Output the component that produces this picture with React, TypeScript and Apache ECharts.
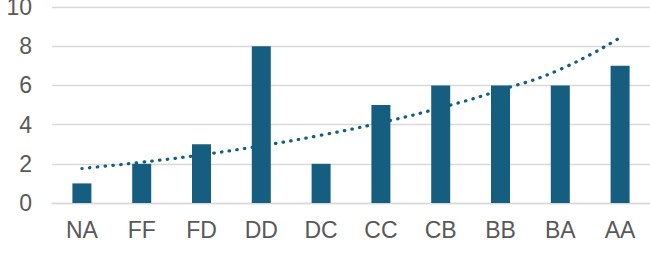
import React, { useEffect, useRef } from "react";
import * as echarts from "echarts";

const categories = ["NA", "FF", "FD", "DD", "DC", "CC", "CB", "BB", "BA", "AA"];
const values = [1, 2, 3, 8, 2, 5, 6, 6, 6, 7];
const trend = [1.76, 2.08, 2.46, 2.92, 3.46, 4.1, 4.86, 5.76, 6.82, 8.44];
const yTicks = { min: 0, max: 10, interval: 2 };

export default function App() {
  const ref = useRef<HTMLDivElement>(null);
  useEffect(() => {
    if (!ref.current) return;
    const chart = echarts.init(ref.current, null, { renderer: "svg" });
    chart.setOption({
      animation: false,
      grid: {
        left: 52,
        right: 0,
        top: 7,
        bottom: 51,
        containLabel: false,
        outerBoundsMode: "none",
      },
      xAxis: {
        type: "category",
        data: categories,
        axisLine: { show: true, lineStyle: { color: "#d9d9d9", width: 1.3 } },
        axisTick: { show: false },
        axisLabel: {
          color: "#595959",
          fontSize: 23,
          fontFamily: "Liberation Sans, Arial, sans-serif",
          margin: 15,
        },
      },
      yAxis: {
        type: "value",
        min: yTicks.min,
        max: yTicks.max,
        interval: yTicks.interval,
        axisLine: { show: false },
        axisTick: { show: false },
        splitLine: { lineStyle: { color: "#d9d9d9", width: 1.3 } },
        axisLabel: {
          color: "#595959",
          fontSize: 23,
          fontFamily: "Liberation Sans, Arial, sans-serif",
          margin: 20,
        },
      },
      series: [
        {
          type: "bar",
          data: values,
          barWidth: 19,
          itemStyle: { color: "#165e80" },
        },
        {
          type: "line",
          data: trend,
          smooth: true,
          symbol: "none",
          lineStyle: { color: "#165e80", width: 3.2, type: [0.5, 7.3], cap: "round" },
          z: 3,
        },
      ],
    });
    return () => chart.dispose();
  }, []);
  return (
    <div
      ref={ref}
      style={{ position: "fixed", left: 0, top: 0, width: 650, height: 254, background: "#fff" }}
    />
  );
}
